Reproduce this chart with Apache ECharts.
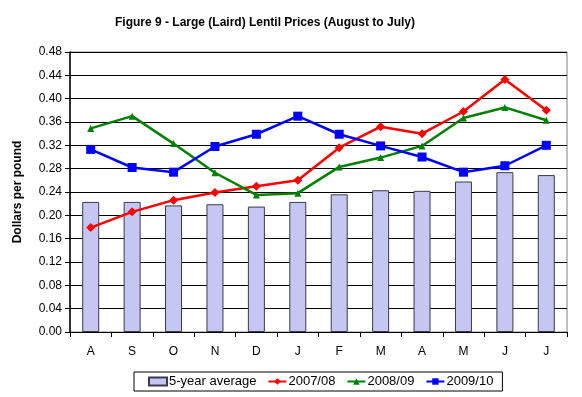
<!DOCTYPE html>
<html>
<head>
<meta charset="utf-8">
<script src="https://cdn.jsdelivr.net/npm/echarts@6/dist/echarts.min.js"></script>
<style>
  html, body { margin: 0; padding: 0; background: #fff; }
  #chart { width: 582px; height: 397px; }
</style>
</head>
<body>
<div id="chart"></div>
<script>
const months = ['A', 'S', 'O', 'N', 'D', 'J', 'F', 'M', 'A', 'M', 'J', 'J']
const avg5 = [0.223, 0.223, 0.217, 0.219, 0.215, 0.223, 0.236, 0.243, 0.242, 0.258, 0.274, 0.269]
const y0708 = [0.179, 0.206, 0.226, 0.239, 0.250, 0.260, 0.316, 0.352, 0.340, 0.378, 0.433, 0.380]
const y0809 = [0.349, 0.370, 0.323, 0.273, 0.235, 0.238, 0.283, 0.299, 0.319, 0.367, 0.385, 0.363]
const y0910 = [0.313, 0.282, 0.274, 0.318, 0.339, 0.370, 0.339, 0.319, 0.300, 0.274, 0.285, 0.320]

const font = 'Liberation Sans, Arial, sans-serif'

const lineSeries = (name, data, color, symbol, size) => ({
    name: name,
    type: 'line',
    data: data,
    symbol: symbol,
    symbolSize: size,
    lineStyle: { color: color, width: 2.5 },
    itemStyle: { color: color },
    z: 5
})

const chart = echarts.init(document.getElementById('chart'))
chart.setOption({
    animation: false,
    backgroundColor: '#fff',
    title: {
        text: 'Figure 9 - Large (Laird) Lentil Prices (August to July)',
        left: 110,
        top: 12,
        textStyle: { fontFamily: font, fontSize: 12, fontWeight: 'bold', color: '#000' }
    },
    grid: {
        left: 70, right: 15, top: 52, bottom: 65,
        show: true,
        borderColor: '#808080',
        borderWidth: 1
    },
    legend: {
        left: 134,
        top: 372,
        width: 400,
        borderColor: '#000',
        borderWidth: 1,
        padding: [3, 9, 3, 14],
        itemGap: 11,
        itemWidth: 18,
        itemHeight: 8,
        textStyle: { fontFamily: font, fontSize: 13, color: '#000', padding: [0, 0, 0, -3] },
        data: [
            { name: '5-year average', icon: 'rect' },
            '2007/08', '2008/09', '2009/10'
        ]
    },
    xAxis: {
        type: 'category',
        data: months,
        axisLine: { lineStyle: { color: '#000', width: 1 } },
        axisTick: { show: true, length: 5, lineStyle: { color: '#000' } },
        axisLabel: { fontFamily: font, fontSize: 12, color: '#000', margin: 14 },
        splitLine: { show: false }
    },
    yAxis: {
        type: 'value',
        min: 0,
        max: 0.48,
        interval: 0.04,
        name: 'Dollars per pound',
        nameLocation: 'middle',
        nameGap: 46,
        nameTextStyle: { fontFamily: font, fontSize: 12, fontWeight: 'bold', color: '#000' },
        axisLine: { show: true, lineStyle: { color: '#000', width: 1.5 } },
        axisTick: { show: true, length: 5, lineStyle: { color: '#000' } },
        axisLabel: {
            fontFamily: font, fontSize: 12, color: '#000', margin: 8,
            formatter: v => v.toFixed(2)
        },
        splitLine: { show: true, lineStyle: { color: '#000', width: 1 } }
    },
    series: [
        {
            name: '5-year average',
            type: 'bar',
            data: avg5,
            barWidth: 17,
            itemStyle: { color: '#C6C6F2', borderColor: '#3a3a4a', borderWidth: 1 },
            z: 2
        },
        lineSeries('2007/08', y0708, '#FF0000', 'diamond', 9),
        lineSeries('2008/09', y0809, '#008000', 'triangle', 7),
        lineSeries('2009/10', y0910, '#0000FF', 'rect', 9)
    ]
})
</script>
</body>
</html>
